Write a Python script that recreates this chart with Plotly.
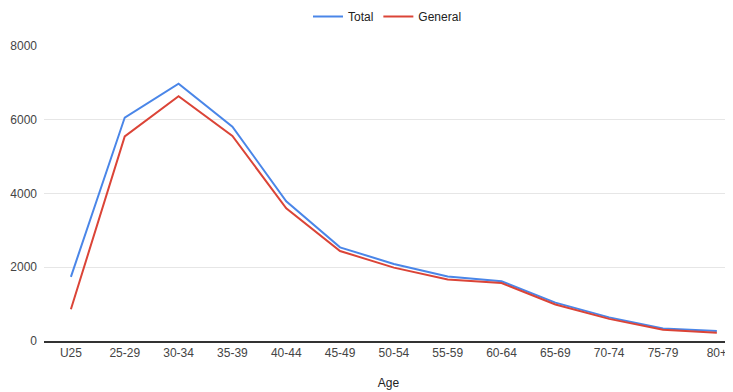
import plotly.graph_objects as go

ages = ["U25", "25-29", "30-34", "35-39", "40-44", "45-49", "50-54",
        "55-59", "60-64", "65-69", "70-74", "75-79", "80+"]
total = [1740, 6060, 6980, 5810, 3790, 2540, 2090, 1750, 1620, 1040, 640, 340, 270]
general = [860, 5550, 6640, 5560, 3600, 2440, 1990, 1670, 1570, 990, 600, 305, 225]
y_ticks = [0, 2000, 4000, 6000, 8000]

fig = go.Figure()
fig.add_trace(go.Scatter(x=ages, y=total, name="Total", mode="lines",
                         line=dict(color="#4a86e8", width=2)))
fig.add_trace(go.Scatter(x=ages, y=general, name="General", mode="lines",
                         line=dict(color="#db4437", width=2)))

font = "Arial, Liberation Sans, sans-serif"
fig.update_layout(
    width=725, height=384,
    margin=dict(l=36, r=0, t=38, b=51, autoexpand=False),
    paper_bgcolor="white", plot_bgcolor="white",
    font=dict(family=font, size=12, color="#444444"),
    showlegend=True,
    legend=dict(orientation="h", x=300 / 725, xanchor="left", y=339 / 295, yanchor="top",
                xref="container", yref="paper",
                font=dict(size=12, color="#222222"), itemwidth=30,
                bgcolor="rgba(0,0,0,0)"),
    xaxis=dict(type="category", range=[-0.5, 12.3], showgrid=False, automargin=False,
               showline=True, linecolor="#333333", linewidth=1.5,
               ticks="", tickfont=dict(size=12, color="#444444"),
               title=dict(text="Age", font=dict(size=12, color="#222222"), standoff=19)),
    yaxis=dict(range=[0, 8000], tickvals=y_ticks, showgrid=True, gridcolor="#e6e6e6",
               gridwidth=1, zeroline=False, showline=False, ticks="", automargin=False,
               tickfont=dict(size=12, color="#444444"), ticklabelstandoff=6),
)
fig.write_html("out.html")
